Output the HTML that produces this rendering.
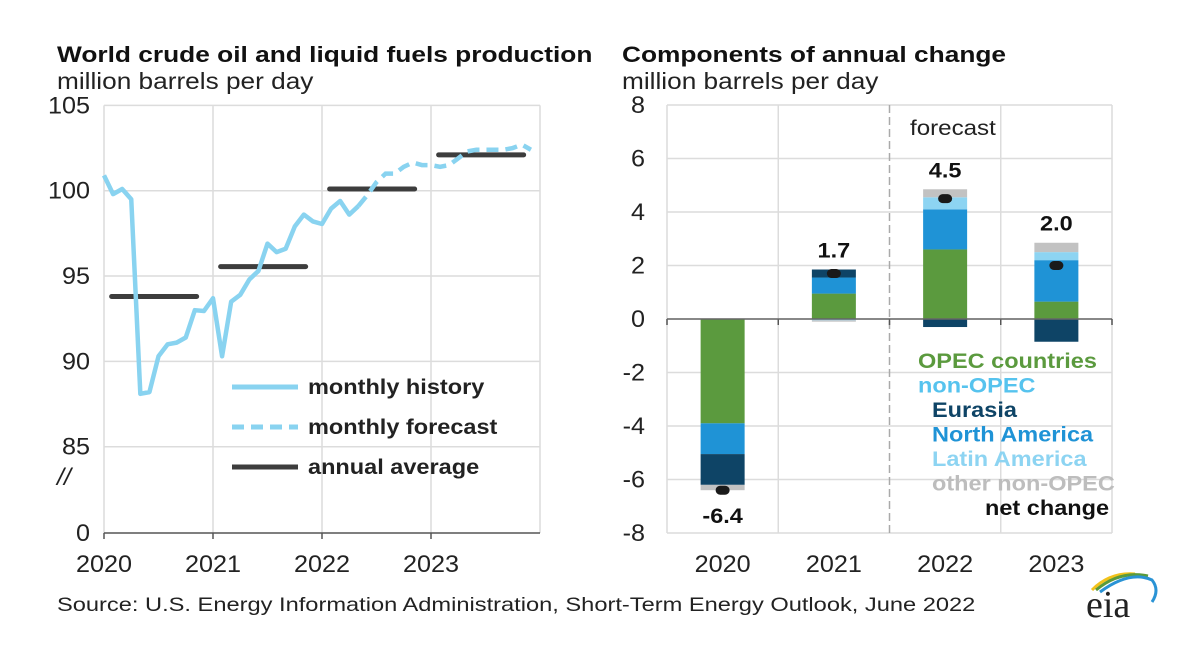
<!DOCTYPE html>
<html><head><meta charset="utf-8">
<style>
body{margin:0;background:#fff;width:1196px;height:653px;overflow:hidden;font-family:"Liberation Sans",Arial,sans-serif;}
svg text{font-family:"Liberation Sans",Arial,sans-serif;}
</style></head>
<body>
<svg id="chart" width="1196" height="653" xmlns="http://www.w3.org/2000/svg">
<text x="57" y="62" font-size="22" font-weight="bold" fill="#111">World crude oil and liquid fuels production</text>
<text x="57" y="89" font-size="23" fill="#222">million barrels per day</text>
<text x="622" y="62" font-size="22" font-weight="bold" fill="#111">Components of annual change</text>
<text x="622" y="89" font-size="23" fill="#222">million barrels per day</text>
<g id="left"></g>
<g id="right"></g>
<text x="57" y="611" font-size="19" fill="#222">Source: U.S. Energy Information Administration, Short-Term Energy Outlook, June 2022</text>
<g>
<path d="M1092 590 Q1110 572 1135 574" stroke="#f2c21b" stroke-width="3" fill="none"/>
<path d="M1096 590 Q1120 570 1148 576" stroke="#5a9a3c" stroke-width="3" fill="none"/>
<path d="M1100 592 Q1130 570 1152 580 Q1160 590 1152 602" stroke="#2a93d5" stroke-width="3" fill="none"/>
<text class="logo" x="1086" y="617" font-size="38" fill="#222" style="font-family:'Liberation Serif',serif">eia</text>
</g>
</svg>
<script>
const NS="http://www.w3.org/2000/svg";
function mk(p,t,a){const e=document.createElementNS(NS,t);for(const k in a)e.setAttribute(k,a[k]);p.appendChild(e);return e;}
// ---- left chart data ----
const years=["2020","2021","2022","2023"];
const monthly=[100.9,99.8,100.1,99.5,88.1,88.2,90.3,91.0,91.1,91.4,93.0,92.95,
93.7,90.3,93.5,93.9,94.8,95.3,96.9,96.4,96.6,97.9,98.6,98.2,
98.05,98.95,99.4,98.6,99.1,99.75,100.5,101.0,101.0,101.4,101.65,101.5,
101.5,101.4,101.5,101.9,102.3,102.4,102.4,102.4,102.4,102.5,102.7,102.4];
const historyEnd=28;
const annualAvg=[93.8,95.55,100.1,102.1];
const leftTicks=[85,90,95,100,105];
const L=document.getElementById('left');
const lx0=104,lx1=540,yearW=(lx1-lx0)/4;
const ly=v=>190.7-(v-100)*17.07;
const mx=i=>lx0+(i/12)*yearW;
leftTicks.forEach(t=>{const g=mk(L,'line',{x1:lx0,x2:lx1,y1:ly(t),y2:ly(t),stroke:'#dcdcdc','stroke-width':1.5});


const tx=mk(L,'text',{x:90,y:ly(t)+8,'font-size':24,fill:'#222','text-anchor':'end'});tx.textContent=t;

});
for(let k=0;k<=4;k++){const x=k<4?lx0+k*yearW:lx1;mk(L,'line',{x1:x,x2:x,y1:ly(105),y2:533,stroke:'#dcdcdc','stroke-width':1.5});}
mk(L,'line',{x1:lx0,x2:lx1,y1:533,y2:533,stroke:'#555','stroke-width':1.5});
for(let k=0;k<4;k++){mk(L,'line',{x1:lx0+k*yearW,x2:lx0+k*yearW,y1:533,y2:539,stroke:'#555','stroke-width':1.5});
const t=mk(L,'text',{x:lx0+k*yearW,y:572,'font-size':24,fill:'#222','text-anchor':'middle'});t.textContent=years[k];

}
let z=mk(L,'text',{x:90,y:541,'font-size':24,fill:'#222','text-anchor':'end'});z.textContent='0';
z=mk(L,'text',{x:57,y:485,'font-size':24,fill:'#222','font-style':'italic'});z.textContent='//';
annualAvg.forEach((v,k)=>{const a=mk(L,'line',{x1:lx0+k*yearW+0.07*yearW,x2:lx0+k*yearW+0.85*yearW,y1:ly(v),y2:ly(v),stroke:'#3d3d3d','stroke-width':5,'stroke-linecap':'round'});

});
const hp=monthly.slice(0,historyEnd+1).map((v,i)=>mx(i)+','+ly(v)).join(' ');
const fp=monthly.slice(historyEnd).map((v,i)=>mx(i+historyEnd)+','+ly(v)).join(' ');
const h=mk(L,'polyline',{points:hp,fill:'none',stroke:'#89d3f0','stroke-width':4.5,'stroke-linejoin':'round'});


const f=mk(L,'polyline',{points:fp,fill:'none',stroke:'#89d3f0','stroke-width':4.5,'stroke-dasharray':'12 7'});


const leg=[['monthly history','#89d3f0',''],['monthly forecast','#89d3f0','12 7'],['annual average','#3d3d3d','']];
leg.forEach((l,i)=>{const y=387+i*40;mk(L,'line',{x1:232,x2:298,y1:y,y2:y,stroke:l[1],'stroke-width':5,'stroke-dasharray':l[2]});
const t=mk(L,'text',{x:308,y:y+7,'font-size':21,'font-weight':'bold',fill:'#222'});t.textContent=l[0];

});
// ---- right chart data ----
const opec=[-3.9,0.95,2.6,0.65];
const eurasia=[-1.15,0.3,-0.3,-0.85];
const northAm=[-1.15,0.6,1.5,1.55];
const latinAm=[0,-0.05,0.45,0.3];
const otherNon=[-0.2,-0.05,0.3,0.35];
const netChange=[-6.4,1.7,4.5,2.0];
const netLabels=["-6.4","1.7","4.5","2.0"];
const rightTicks=[-8,-6,-4,-2,0,2,4,6,8];
const R=document.getElementById('right');
const rx0=667,rx1=1112,cw=(rx1-rx0)/4;
const ry=v=>319-v*26.75;
rightTicks.forEach(t=>{mk(R,'line',{x1:rx0,x2:rx1,y1:ry(t),y2:ry(t),stroke:'#dcdcdc','stroke-width':1.5});
const tx=mk(R,'text',{x:645,y:ry(t)+8,'font-size':24,fill:'#222','text-anchor':'end'});tx.textContent=t;

});
for(let k=0;k<=4;k++){const x=rx0+k*cw;mk(R,'line',{x1:x,x2:x,y1:ry(8),y2:ry(-8),stroke:k==2?'#aaa':'#dcdcdc','stroke-width':1.5,'stroke-dasharray':k==2?'8 4':''});}
const ft=mk(R,'text',{x:910,y:135,'font-size':21,fill:'#222'});ft.textContent='forecast';


const series=[[opec,'#5b9a3e','opec'],[northAm,'#1f93d6','north-america'],[eurasia,'#0e4466','eurasia'],[latinAm,'#8dd4f2','latin-america'],[otherNon,'#c2c2c2','other-non-opec']];
for(let k=0;k<4;k++){let pos=0,neg=0;const cx=rx0+(k+0.5)*cw,bw=44;
series.forEach(s=>{const v=s[0][k];if(v===0)return;let y0,y1;
if(v>0){y0=pos;y1=pos+v;pos=y1;}else{y0=neg;y1=neg+v;neg=y1;}
const r=mk(R,'rect',{x:cx-bw/2,y:Math.min(ry(y0),ry(y1)),width:bw,height:Math.abs(ry(y0)-ry(y1)),fill:s[1]});

});
const d=mk(R,'rect',{x:cx-7,y:ry(netChange[k])-4.5,width:14,height:9,rx:4.5,fill:'#1a1a1a'});


const top=netChange[k]>0?ry(pos)-12:ry(neg)+33;
const t=mk(R,'text',{x:cx,y:top,'font-size':21,'font-weight':'bold',fill:'#111','text-anchor':'middle'});t.textContent=netLabels[k];


const xt=mk(R,'text',{x:cx,y:572,'font-size':24,fill:'#222','text-anchor':'middle'});xt.textContent=years[k];


mk(R,'line',{x1:rx0+k*cw,x2:rx0+k*cw,y1:319,y2:325,stroke:'#555','stroke-width':1.5});}
mk(R,'line',{x1:rx0,x2:rx1,y1:319,y2:319,stroke:'#666','stroke-width':1.5});
mk(R,'line',{x1:rx1,x2:rx1,y1:319,y2:325,stroke:'#555','stroke-width':1.5});
const rl=[['OPEC countries','#5b9a3e',918],['non-OPEC','#56c3ee',918],['Eurasia','#0e4466',932],['North America','#1f93d6',932],['Latin America','#8dd4f2',932],['other non-OPEC','#bdbdbd',932],['net change','#111',985]];
rl.forEach((l,i)=>{const t=mk(R,'text',{x:l[2],y:368+i*24.5,'font-size':21,'font-weight':'bold',fill:l[1]});t.textContent=l[0];

});
// horizontal stretch of text to match reference glyph widths
const stretch={'22b':1.195,'21b':1.12,'24n':1.05,'23n':1.14,'21n':1.15,'19n':1.245};
document.querySelectorAll('#chart text').forEach(t=>{
 if(t.classList.contains('logo'))return;
 const x=parseFloat(t.getAttribute('x'));
 const key=t.getAttribute('font-size')+(t.getAttribute('font-weight')==='bold'?'b':'n');
 const s=stretch[key]||1;
 t.setAttribute('transform','translate('+x+',0) scale('+s+',1) translate('+(-x)+',0)');
});
</script>
</body></html>
